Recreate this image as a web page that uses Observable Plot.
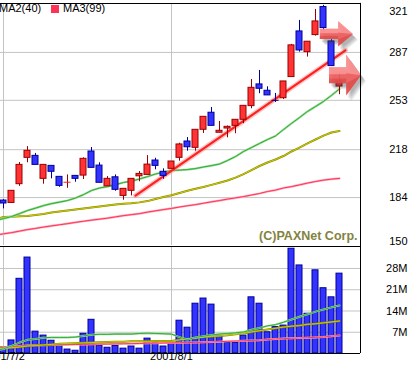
<!DOCTYPE html>
<html><head><meta charset="utf-8">
<script src="https://cdn.jsdelivr.net/npm/d3@7"></script>
<script src="https://cdn.jsdelivr.net/npm/@observablehq/plot@0.6"></script>
<style>
html,body{margin:0;padding:0;background:#fff;}
#chart{position:relative;width:415px;height:367px;overflow:hidden;background:#fff;font-family:"Liberation Sans",Arial,sans-serif;}
#price,#volume{position:absolute;left:0;}
#price{top:0}
#volume{top:246px}
.lg{position:absolute;top:2px;font-size:11px;line-height:13px;white-space:nowrap;color:#000;}
.lg i{display:inline-block;width:8px;height:8px;vertical-align:-1px;margin-right:4px;}
</style>
</head><body>
<div id="chart"><div id="price"></div><div id="volume"></div></div>
<script>
// ---- data ----
const dates = ["2001/7/2","2001/7/3","2001/7/4","2001/7/5","2001/7/6","2001/7/9","2001/7/10","2001/7/11","2001/7/12","2001/7/13","2001/7/16","2001/7/18","2001/7/19","2001/7/20","2001/7/23","2001/7/24","2001/7/25","2001/7/26","2001/7/27","2001/7/30","2001/7/31","2001/8/1","2001/8/2","2001/8/3","2001/8/6","2001/8/7","2001/8/8","2001/8/9","2001/8/10","2001/8/13","2001/8/14","2001/8/16","2001/8/17","2001/8/20","2001/8/21","2001/8/22","2001/8/23","2001/8/24","2001/8/27","2001/8/28","2001/8/29","2001/8/30","2001/8/31"];
const open  = [181.9,180.2,193.5,212.2,213.6,197.3,206.5,198.7,194.9,199.4,199.6,216.7,206.7,192.0,198.4,185.2,188.8,199.1,200.1,210.3,202.3,204.4,212.2,223.8,219.3,232.1,244.2,230.0,233.0,234.9,239.2,248.9,264.3,259.8,253.0,254.5,269.5,301.9,287.2,299.3,319.2,294.8,262.8];
const high  = [182.5,188.8,208.9,220.2,215.3,207.2,206.5,198.7,200.1,199.4,212.2,219.5,208.7,198.9,200.1,190.2,197.3,202.5,213.8,211.9,204.4,209.6,222.6,226.6,232.1,241.3,247.9,238.0,234.8,239.2,249.1,267.8,274.2,262.6,257.9,266.4,292.7,309.7,294.6,317.5,320.4,296.0,272.3];
const low   = [176.0,180.2,192.0,208.7,207.2,193.5,197.3,191.3,190.6,194.9,196.8,205.1,194.5,192.0,188.5,182.1,185.2,195.2,200.1,203.7,197.0,204.4,209.8,216.9,216.9,229.5,234.9,230.0,226.4,229.3,236.4,247.0,257.7,256.5,251.5,253.6,269.5,287.2,283.7,298.6,301.4,277.0,257.0];
const close = [179.8,188.8,207.2,217.2,207.2,207.2,202.3,192.3,195.0,197.3,211.5,205.1,194.5,197.3,189.5,190.2,197.3,200.8,207.4,206.5,199.4,209.6,221.7,219.7,232.1,241.3,234.9,231.4,234.2,239.2,249.1,261.9,261.2,256.5,252.9,266.4,292.0,288.4,294.6,309.0,304.3,277.3,266.4];
const volume = [2.1,4.3,24.6,31.6,7.2,5.9,4.2,3.0,1.3,0.9,6.5,11.1,2.6,1.9,2.5,1.6,2.3,1.6,4.9,3.5,2.3,3.4,10.8,8.5,16.4,18.1,16.1,5.9,3.5,3.5,5.9,18.5,16.4,7.0,8.7,9.2,34.5,29.0,13.1,27.4,21.5,18.5,26.3];
// moving averages: first value is the trading day before 2001/7/2
const ma1 = [167.7,169.1,170.5,172.6,174.8,176.5,178.3,179.7,180.8,181.9,183.7,186.1,189.0,190.8,191.8,193.2,194.7,195.7,197.2,198.9,200.7,202.1,203.2,203.5,203.9,204.6,205.7,206.7,207.8,210.3,213.1,216.7,219.5,222.4,225.2,227.7,232.3,236.6,240.8,245.1,248.6,252.2,256.5,261.1];
const ma2 = [168.5,170.2,170.4,170.7,171.0,171.6,172.4,173.4,174.1,174.8,175.5,176.2,176.9,177.6,178.4,179.1,179.6,180.0,180.6,181.5,183.0,184.4,185.7,187.2,188.8,190.2,191.5,193.0,194.5,196.1,198.2,200.7,203.5,206.4,208.9,211.0,213.5,216.7,219.5,222.4,225.2,228.0,230.2,231.2];
const ma3 = [157.3,158.3,159.1,160.2,161.3,162.1,163.1,163.9,164.7,165.5,166.4,167.2,168.0,168.7,169.4,170.3,171.2,171.9,172.6,173.7,174.6,175.5,176.3,177.3,178.2,179.0,180.0,181.0,181.9,182.9,183.8,184.7,185.8,186.9,188.3,189.3,190.8,191.8,193.0,194.3,195.4,196.4,197.1,197.6];
const vma1 = [1.0,1.5,2.5,3.6,4.5,4.8,5.2,5.3,5.3,5.3,5.4,5.8,6.2,6.3,6.3,6.4,6.4,6.4,6.6,6.7,6.6,6.5,6.4,5.4,4.6,5.3,5.7,6.1,6.4,6.6,6.8,7.1,7.8,8.4,9.1,9.5,10.3,11.2,12.1,12.9,13.8,14.5,15.2,15.8];
const vma2 = [1.65,1.75,1.9,2.1,2.5,2.6,2.8,3.0,3.2,3.3,3.4,3.5,3.6,3.7,3.8,3.9,3.9,4.0,4.0,4.0,4.1,4.1,4.1,4.5,4.8,5.1,5.4,5.6,5.8,6.0,6.3,6.6,7.1,7.5,7.9,8.3,8.7,9.0,9.2,9.6,9.8,10.1,10.4,10.7];
const vma3 = [2.05,2.1,2.3,2.5,2.6,2.7,2.75,2.8,2.85,2.9,2.95,3.0,3.05,3.1,3.1,3.15,3.2,3.25,3.3,3.35,3.4,3.45,3.5,3.55,3.6,3.65,3.7,3.8,3.9,4.0,4.1,4.2,4.3,4.4,4.6,4.8,4.9,5.0,5.1,5.2,5.3,5.4,5.7,5.9];
const maNames = ["MA1(20)","MA2(40)","MA3(99)"];
const priceTicks = [321,287,253,218,184,150];
const volTicks = [28,21,14,7];
const xTickLabels = ["2001/7/2","2001/8/1"];
const copyright = "(C)PAXNet Corp.";
// trend line drawn on the chart (index, price)
const trend = [{i:16.5, p:185.4},{i:42.75, p:288.4}];
// arrow annotations (index range and price)
const arrows = [
  {from:39.6, base:41.9, tip:43.75, p:299.8, tail:3.6, head:8.9},
  {from:40.75, base:42.9, tip:44.75, p:270.5, tail:5.7, head:14.5}
];

// ---- styles ----
const RED="#ff3333", RED_D="#990000", BLUE="#3333ff", BLUE_D="#000099";
const G1="#33aa33", G1L="#99dd99", Y1="#cccc00", Y1D="#888800", R1="#ff3355", R1L="#ffaabb";
const GRID="#c4c4c4";
const FONT = "Liberation Sans, Arial, sans-serif";

const candles = dates.map((d,i)=>({i, d, o:open[i], h:high[i], l:low[i], c:close[i], v:volume[i]}));
const isUp = d => d.c >= d.o;
const bodies = candles.filter(d => Math.abs(d.c-d.o) >= 0.3);
const dojis = candles.filter(d => Math.abs(d.c-d.o) < 0.3);
const series = arr => arr.map((v,j)=>({i:j-1, v}));
const xIdx = xTickLabels.map(s => dates.indexOf(s));

const X = {type:"linear", domain:[-0.375, 44.625], axis:null};
const W = 415, RIGHT = 44.625;

// arrow outlines as (index, lower, upper) bands
const arrowPts = arrows.flatMap((a,j)=>[
  {j, i:a.from, lo:a.p-a.tail, hi:a.p+a.tail},
  {j, i:a.base, lo:a.p-a.tail, hi:a.p+a.tail},
  {j, i:a.base, lo:a.p-a.head, hi:a.p+a.head},
  {j, i:a.tip,  lo:a.p, hi:a.p}
]);
const arrowTop = arrowPts.map(d => ({...d, lo: (d.lo + d.hi) / 2 + (d.hi - d.lo) * 0.05}));
const arrowBottom = arrowPts.map(d => ({...d, hi: d.lo + (d.hi - d.lo) * 0.3}));
const arrowArea = (pts, opts) => Plot.areaY(pts, {x:"i", y1:"lo", y2:"hi", z:"j", ...opts});

const maLine = (arr, color, w) => Plot.line(series(arr), {x:"i", y:"v", stroke:color, strokeWidth:w, clip:true});

const price = Plot.plot({
  width: W, height: 246, marginLeft: 0, marginRight: 55, marginTop: 4, marginBottom: 1,
  x: X, y: {domain:[150,321], axis:null}, color:{type:"identity"},
  style: {fontFamily: FONT, fontSize: "11px", background: "white", color: "black"},
  marks: [
    Plot.ruleY(priceTicks.slice(1,-1), {stroke: GRID}),
    Plot.ruleX(xIdx, {stroke: GRID}),
    maLine(ma3, R1L, 2.2), maLine(ma3, R1, 1),
    maLine(ma2, Y1D, 2), maLine(ma2, Y1, 1),
    maLine(ma1, G1L, 2.2), maLine(ma1, G1, 1),
    Plot.line(trend, {x:"i", y:"p", stroke:"#ff8080", strokeWidth:5, strokeOpacity:0.45}),
    Plot.line(trend, {x:"i", y:"p", stroke:"#ff2020", strokeWidth:2.2}),
    Plot.ruleX(candles, {x:"i", y1:"l", y2:"h", stroke: d => isUp(d) ? RED_D : BLUE_D, clip:true}),
    Plot.rect(bodies, {x1: d=>d.i-0.375, x2: d=>d.i+0.375, y1:"o", y2:"c",
      fill: d => isUp(d) ? RED : BLUE, stroke: d => isUp(d) ? RED_D : BLUE_D, clip:true}),
    Plot.ruleY(dojis, {y:"o", x1: d=>d.i-0.44, x2: d=>d.i+0.44, stroke: d => isUp(d) ? "#ee2222" : BLUE_D}),
    // soft shadow: stacked translucent copies
    arrowArea(arrowPts, {fill:"#404040", fillOpacity:0.12, dx:2, dy:3}),
    arrowArea(arrowPts, {fill:"#404040", fillOpacity:0.12, dx:3, dy:4}),
    arrowArea(arrowPts, {fill:"#404040", fillOpacity:0.12, dx:4, dy:5}),
    arrowArea(arrowPts, {fill:"#404040", fillOpacity:0.10, dx:5, dy:6}),
    // body with light top and darker bottom
    arrowArea(arrowPts, {fill:"#f25c5c", fillOpacity:0.9}),
    arrowArea(arrowTop, {fill:"#ffb4b4", fillOpacity:0.55}),
    arrowArea(arrowBottom, {fill:"#c83030", fillOpacity:0.35}),
    Plot.ruleY([321], {stroke:"black", dy:-1}),
    Plot.ruleX([RIGHT], {y1:149, y2:321.8, stroke:"black"}),
    Plot.text(priceTicks.slice(1,-1), {y: d=>d, text: d=>String(d), frameAnchor:"right", dx:47, textAnchor:"end", fill:"black"}),
    Plot.text(priceTicks.slice(0,1), {y: d=>d, text: d=>String(d), frameAnchor:"right", dx:47, dy:6.5, textAnchor:"end", fill:"black"}),
    Plot.text(priceTicks.slice(-1), {y: d=>d, text: d=>String(d), frameAnchor:"right", dx:47, dy:-4, textAnchor:"end", fill:"black"}),
    Plot.text([copyright], {text: d=>d, frameAnchor:"bottom-right", dx:-3, dy:-6, textAnchor:"end", lineAnchor:"bottom", fill:"#838340", fontWeight:"bold", fontSize:12.5})
  ]
});

const VMAX = 35.24;
const vol = Plot.plot({
  width: W, height: 121, marginLeft: 0, marginRight: 55, marginTop: 0, marginBottom: 14,
  x: X, y: {domain:[0,VMAX], axis:null}, color:{type:"identity"},
  style: {fontFamily: FONT, fontSize: "11px", background: "white", color: "black"},
  marks: [
    Plot.ruleY(volTicks, {stroke: GRID}),
    Plot.ruleX(xIdx, {stroke: GRID}),
    Plot.rect(candles, {x1: d=>d.i-0.375, x2: d=>d.i+0.375, y1: 0, y2:"v", fill: BLUE, stroke: BLUE_D, clip:true}),
    maLine(vma3, R1L, 2), maLine(vma3, R1, 1),
    maLine(vma2, Y1D, 2), maLine(vma2, Y1, 1),
    maLine(vma1, G1L, 2), maLine(vma1, G1, 1),
    Plot.ruleY([VMAX, 0], {stroke:"black"}),
    Plot.ruleX([RIGHT], {stroke:"black"}),
    Plot.text(volTicks, {y: d=>d, text: d=>d+"M", frameAnchor:"right", dx:47, textAnchor:"end", fill:"black"}),
    Plot.text(xIdx, {x: d=>d, text: (d,k)=>xTickLabels[k], frameAnchor:"bottom", dy:6, fill:"black"})
  ]
});

document.getElementById("price").appendChild(price);
document.getElementById("volume").appendChild(vol);

// legend
const legendColors = [G1, Y1, R1];
const legendLeft = [-80, -13, 51];
maNames.forEach((n,k)=>{
  const el = document.createElement("div");
  el.className = "lg";
  el.style.left = legendLeft[k] + "px";
  el.innerHTML = `<i style="background:${legendColors[k]}"></i>${n}`;
  document.getElementById("chart").appendChild(el);
});
</script>
</body></html>
